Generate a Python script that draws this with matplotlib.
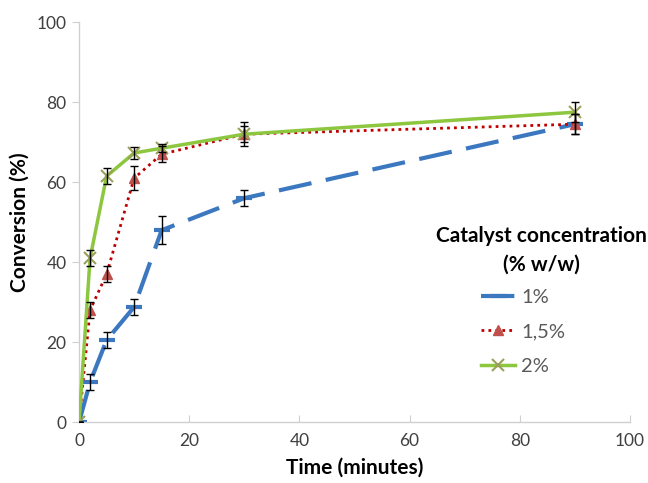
import matplotlib
matplotlib.use("Agg")
import matplotlib.pyplot as plt

plt.rcParams['font.family'] = ['Lato', 'DejaVu Sans']

time = [0, 2, 5, 10, 15, 30, 90]
conv_1 = [0, 10, 20.5, 28.8, 48, 56, 74.5]
err_1 = [0, 2, 2, 2, 3.5, 2, 2.5]
conv_15 = [0, 28, 37, 61, 67, 72, 74.5]
err_15 = [0, 2, 2, 3, 2, 2, 2.5]
conv_2 = [0, 41, 61.5, 67.3, 68.5, 72, 77.5]
err_2 = [0, 2, 2, 1.5, 1, 3, 2.5]
labels = ['1%', '1,5%', '2%']

fig = plt.figure(figsize=(6.48, 4.83), dpi=100)
ax = fig.add_axes([0.122, 0.126, 0.85, 0.828])

blue = '#3C78C0'
red = '#C00000'
redm = '#C0504D'
green = '#8DC63F'

h1, = ax.plot(time, conv_1, color=blue, lw=3, dashes=(8, 3.5),
              marker='_', ms=11, mew=3, label=labels[0], zorder=2)
h2, = ax.plot(time, conv_15, color=red, lw=2, ls=(0, (1, 1.5)),
              marker='^', ms=7, mfc=redm, mec=redm, label=labels[1], zorder=3)
h3, = ax.plot(time, conv_2, color=green, lw=2.5,
              marker='x', ms=8, mew=1.5, mec='#9AA05A', label=labels[2], zorder=4)
for c, e in [(conv_1, err_1), (conv_15, err_15), (conv_2, err_2)]:
    ax.errorbar(time, c, yerr=e, fmt='none', ecolor='black', elinewidth=1,
                capsize=3, capthick=1, zorder=5)

ax.set_xlim(0, 100)
ax.set_ylim(0, 100)
ax.set_xticks([0, 20, 40, 60, 80, 100])
ax.set_yticks([0, 20, 40, 60, 80, 100])
for s in ['top', 'right']:
    ax.spines[s].set_visible(False)
for s in ['left', 'bottom']:
    ax.spines[s].set_color('#D0D0D0')
    ax.spines[s].set_linewidth(1)
ax.tick_params(axis='x', direction='in', length=5, color='#D0D0D0', labelsize=12.5,
               labelcolor='#404040', pad=8)
ax.tick_params(axis='y', direction='out', length=5, color='#D0D0D0', labelsize=12.5,
               labelcolor='#404040', pad=4)
ax.set_xlabel('Time (minutes)', fontsize=15, fontweight='bold', labelpad=6)
ax.set_ylabel('Conversion (%)', fontsize=15, fontweight='bold', labelpad=5)

fig.text(0.835, 1 - 226 / 483, 'Catalyst concentration\n(% w/w)', ha='center', va='top',
         ma='center', fontsize=15, fontweight='bold', linespacing=1.55)
leg = fig.legend([h1, h2, h3], labels, loc='upper left',
                 bbox_to_anchor=(473 / 648, 1 - 281 / 483), frameon=False,
                 fontsize=14.5, handlelength=1.7, labelspacing=0.85, handletextpad=0.3,
                 borderaxespad=0)
for t in leg.get_texts():
    t.set_color('#595959')

fig.savefig('out.png', dpi=100)
